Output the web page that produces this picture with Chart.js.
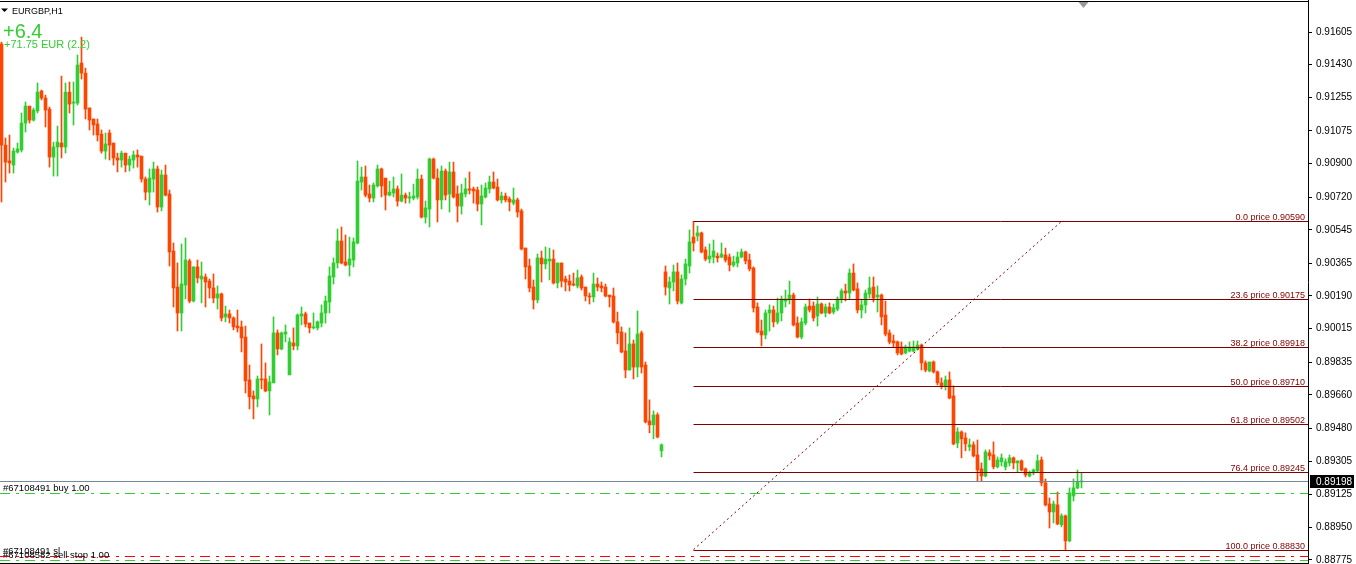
<!DOCTYPE html>
<html>
<head>
<meta charset="utf-8">
<title>EURGBP,H1</title>
<script src="https://cdn.jsdelivr.net/npm/chart.js@4.4.0/dist/chart.umd.min.js"></script>
<style>
  html, body { margin: 0; padding: 0; background: #fff; }
  #chart { display: block; }
</style>
</head>
<body>
<canvas id="chart" width="1356" height="564"></canvas>
<script>
'use strict';

// EURGBP H1 bars, oldest first
const opens = [
  0.91541,0.90999,0.90914,0.90892,0.90962,0.90973,0.91117,0.91208,0.91133,0.91182,
  0.91289,0.91251,0.91192,0.90935,0.90989,0.91010,0.90989,0.91283,0.91224,0.91224,
  0.91439,0.91385,0.91198,0.91139,0.91112,0.91058,0.90967,0.91064,0.91010,0.90930,
  0.90919,0.90956,0.90892,0.90919,0.90946,0.90940,0.90817,0.90747,0.90817,0.90871,
  0.90667,0.90839,0.90737,0.90431,0.90238,0.90099,0.90249,0.90378,0.90163,0.90346,
  0.90281,0.90292,0.90270,0.90233,0.90179,0.90201,0.90078,0.90094,0.90072,0.90029,
  0.90024,0.89970,0.89740,0.89654,0.89638,0.89745,0.89745,0.89681,0.89724,0.89992,
  0.89906,0.89986,0.89767,0.89938,0.89922,0.90083,0.90094,0.90045,0.90019,0.90019,
  0.90045,0.90099,0.90158,0.90292,0.90367,0.90485,0.90372,0.90356,0.90383,0.90474,
  0.90801,0.90828,0.90737,0.90715,0.90780,0.90871,0.90822,0.90731,0.90742,0.90764,
  0.90699,0.90731,0.90715,0.90715,0.90721,0.90817,0.90613,0.90656,0.90924,0.90822,
  0.90705,0.90860,0.90737,0.90855,0.90737,0.90672,0.90737,0.90764,0.90764,0.90758,
  0.90683,0.90721,0.90764,0.90801,0.90774,0.90705,0.90726,0.90710,0.90688,0.90705,
  0.90646,0.90447,0.90351,0.90238,0.90169,0.90394,0.90362,0.90378,0.90388,0.90260,
  0.90367,0.90281,0.90270,0.90254,0.90244,0.90292,0.90238,0.90190,0.90185,0.90254,
  0.90244,0.90238,0.90195,0.90190,0.90051,0.89997,0.89895,0.89793,0.89933,0.89809,
  0.89992,0.89820,0.89520,0.89499,0.89552,0.89360,0.90319,0.90233,0.90265,0.90319,
  0.90153,0.90281,0.90351,0.90506,0.90512,0.90528,0.90437,0.90388,0.90399,0.90404,
  0.90399,0.90410,0.90399,0.90356,0.90367,0.90399,0.90426,0.90383,0.90340,0.90131,
  0.90002,0.89981,0.90099,0.90115,0.90051,0.90099,0.90163,0.90174,0.90195,0.90045,
  0.89970,0.90045,0.90136,0.90136,0.90083,0.90147,0.90099,0.90131,0.90104,0.90120,
  0.90174,0.90217,0.90206,0.90313,0.90228,0.90115,0.90142,0.90201,0.90238,0.90185,
  0.90195,0.90088,0.89992,0.89949,0.89944,0.89917,0.89885,0.89895,0.89895,0.89906,
  0.89927,0.89831,0.89788,0.89836,0.89783,0.89724,0.89708,0.89740,0.89654,0.89402,
  0.89461,0.89429,0.89381,0.89392,0.89338,0.89263,0.89225,0.89349,0.89338,0.89274,
  0.89301,0.89274,0.89295,0.89322,0.89295,0.89306,0.89263,0.89225,0.89241,0.89252,
  0.89311,0.89188,0.89075,0.89032,0.89070,0.88963,0.89011,0.88877,0.89118,0.89161,
  0.89193
];
const highs = [
  0.91551,0.91037,0.91053,0.90983,0.91010,0.91171,0.91230,0.91208,0.91198,0.91332,
  0.91294,0.91267,0.91203,0.91015,0.91101,0.91369,0.91332,0.91337,0.91337,0.91482,
  0.91578,0.91412,0.91198,0.91139,0.91139,0.91080,0.91064,0.91080,0.91010,0.90956,
  0.90967,0.90956,0.90940,0.90967,0.90973,0.90940,0.90828,0.90871,0.90908,0.90887,
  0.90865,0.90892,0.90758,0.90474,0.90367,0.90469,0.90501,0.90388,0.90346,0.90383,
  0.90372,0.90308,0.90281,0.90308,0.90244,0.90206,0.90136,0.90115,0.90078,0.90115,
  0.90056,0.90029,0.89820,0.89681,0.89761,0.89933,0.89831,0.89761,0.90078,0.90008,
  0.89997,0.90035,0.89965,0.90019,0.90094,0.90131,0.90104,0.90045,0.90099,0.90056,
  0.90142,0.90190,0.90346,0.90394,0.90549,0.90560,0.90517,0.90506,0.90501,0.90914,
  0.90881,0.90887,0.90785,0.90796,0.90892,0.90876,0.90822,0.90806,0.90828,0.90780,
  0.90844,0.90742,0.90747,0.90790,0.90871,0.90839,0.90699,0.90930,0.90930,0.90871,
  0.90887,0.90871,0.90908,0.90908,0.90780,0.90790,0.90822,0.90855,0.90774,0.90774,
  0.90785,0.90796,0.90833,0.90855,0.90817,0.90747,0.90742,0.90721,0.90769,0.90715,
  0.90656,0.90447,0.90388,0.90276,0.90415,0.90431,0.90453,0.90447,0.90437,0.90367,
  0.90367,0.90297,0.90303,0.90313,0.90329,0.90303,0.90238,0.90206,0.90313,0.90287,
  0.90265,0.90254,0.90195,0.90233,0.90104,0.90024,0.89992,0.90019,0.89954,0.90110,
  0.90002,0.89836,0.89633,0.89574,0.89563,0.89397,0.90351,0.90292,0.90356,0.90367,
  0.90303,0.90388,0.90544,0.90590,0.90565,0.90533,0.90453,0.90469,0.90490,0.90421,
  0.90474,0.90447,0.90415,0.90404,0.90426,0.90442,0.90431,0.90415,0.90346,0.90153,
  0.90061,0.90115,0.90142,0.90136,0.90179,0.90190,0.90222,0.90270,0.90206,0.90078,
  0.90072,0.90147,0.90174,0.90158,0.90185,0.90153,0.90147,0.90153,0.90147,0.90185,
  0.90228,0.90254,0.90335,0.90362,0.90260,0.90174,0.90222,0.90292,0.90292,0.90244,
  0.90201,0.90163,0.90008,0.89981,0.89949,0.89944,0.89927,0.89944,0.89949,0.89949,
  0.89933,0.89842,0.89836,0.89842,0.89788,0.89751,0.89761,0.89783,0.89708,0.89483,
  0.89467,0.89456,0.89424,0.89408,0.89418,0.89295,0.89365,0.89365,0.89408,0.89327,
  0.89343,0.89317,0.89338,0.89327,0.89306,0.89311,0.89268,0.89252,0.89263,0.89338,
  0.89327,0.89209,0.89107,0.89091,0.89139,0.89022,0.89016,0.89161,0.89209,0.89257,
  0.89241
];
const lows = [
  0.90694,0.90801,0.90849,0.90849,0.90956,0.90962,0.91069,0.91117,0.91128,0.91171,
  0.91241,0.91096,0.90881,0.90833,0.90833,0.90930,0.90956,0.91171,0.91107,0.91214,
  0.91353,0.91139,0.91080,0.91053,0.91021,0.90956,0.90924,0.90919,0.90892,0.90855,
  0.90881,0.90855,0.90860,0.90876,0.90881,0.90801,0.90705,0.90678,0.90747,0.90640,
  0.90646,0.90726,0.90351,0.90131,0.90002,0.90002,0.90174,0.90153,0.90158,0.90260,
  0.90153,0.90131,0.90179,0.90153,0.90120,0.90056,0.90051,0.90045,0.90008,0.89997,
  0.89890,0.89670,0.89584,0.89531,0.89595,0.89692,0.89676,0.89552,0.89724,0.89874,
  0.89901,0.89944,0.89767,0.89901,0.89901,0.90035,0.90024,0.89992,0.90013,0.90008,
  0.90024,0.90045,0.90099,0.90254,0.90340,0.90362,0.90351,0.90297,0.90346,0.90469,
  0.90758,0.90721,0.90694,0.90694,0.90774,0.90721,0.90651,0.90726,0.90721,0.90672,
  0.90694,0.90688,0.90688,0.90705,0.90710,0.90608,0.90581,0.90560,0.90817,0.90587,
  0.90656,0.90705,0.90640,0.90715,0.90587,0.90629,0.90721,0.90737,0.90688,0.90646,
  0.90571,0.90715,0.90742,0.90764,0.90699,0.90688,0.90694,0.90646,0.90678,0.90613,
  0.90437,0.90281,0.90212,0.90120,0.90153,0.90265,0.90335,0.90276,0.90254,0.90233,
  0.90238,0.90217,0.90217,0.90244,0.90233,0.90222,0.90163,0.90147,0.90158,0.90217,
  0.90212,0.90185,0.90131,0.90045,0.89933,0.89885,0.89751,0.89793,0.89745,0.89756,
  0.89777,0.89509,0.89456,0.89424,0.89429,0.89327,0.90195,0.90147,0.90217,0.90147,
  0.90147,0.90249,0.90313,0.90431,0.90485,0.90421,0.90378,0.90367,0.90367,0.90372,
  0.90394,0.90372,0.90324,0.90346,0.90346,0.90394,0.90362,0.90324,0.90104,0.89992,
  0.89922,0.89960,0.90002,0.90024,0.90040,0.90056,0.90131,0.90147,0.90029,0.89965,
  0.89960,0.90035,0.90104,0.90056,0.90029,0.90094,0.90078,0.90094,0.90094,0.90110,
  0.90153,0.90163,0.90174,0.90217,0.90099,0.90072,0.90099,0.90179,0.90158,0.90104,
  0.90035,0.89976,0.89933,0.89917,0.89874,0.89874,0.89879,0.89890,0.89890,0.89901,
  0.89793,0.89783,0.89783,0.89777,0.89713,0.89692,0.89686,0.89638,0.89392,0.89376,
  0.89322,0.89360,0.89360,0.89327,0.89198,0.89198,0.89220,0.89311,0.89263,0.89268,
  0.89279,0.89257,0.89279,0.89263,0.89247,0.89252,0.89220,0.89220,0.89231,0.89247,
  0.89172,0.89064,0.88946,0.88973,0.88963,0.88952,0.88830,0.88872,0.89091,0.89156,
  0.89161
];
const closes = [
  0.90999,0.90908,0.90903,0.90967,0.90978,0.91117,0.91208,0.91133,0.91187,0.91283,
  0.91251,0.91187,0.90935,0.90989,0.91015,0.90989,0.91283,0.91219,0.91230,0.91428,
  0.91385,0.91192,0.91133,0.91107,0.91053,0.90967,0.91005,0.90999,0.90930,0.90919,
  0.90956,0.90892,0.90924,0.90946,0.90935,0.90817,0.90747,0.90822,0.90871,0.90667,
  0.90839,0.90731,0.90426,0.90233,0.90099,0.90254,0.90383,0.90163,0.90346,0.90287,
  0.90297,0.90265,0.90233,0.90179,0.90201,0.90072,0.90094,0.90072,0.90024,0.90019,
  0.89965,0.89735,0.89649,0.89638,0.89745,0.89740,0.89681,0.89729,0.89992,0.89906,
  0.89992,0.89997,0.89944,0.89922,0.90088,0.90094,0.90040,0.90019,0.90024,0.90051,
  0.90099,0.90163,0.90297,0.90367,0.90485,0.90367,0.90356,0.90388,0.90480,0.90806,
  0.90828,0.90731,0.90715,0.90785,0.90871,0.90780,0.90731,0.90747,0.90764,0.90699,
  0.90731,0.90715,0.90721,0.90726,0.90817,0.90613,0.90662,0.90924,0.90822,0.90705,
  0.90860,0.90731,0.90855,0.90721,0.90672,0.90742,0.90764,0.90758,0.90753,0.90683,
  0.90726,0.90769,0.90801,0.90769,0.90705,0.90726,0.90705,0.90694,0.90705,0.90640,
  0.90442,0.90346,0.90233,0.90169,0.90394,0.90362,0.90388,0.90388,0.90260,0.90367,
  0.90270,0.90265,0.90249,0.90249,0.90287,0.90233,0.90190,0.90185,0.90254,0.90238,
  0.90233,0.90190,0.90185,0.90051,0.89992,0.89890,0.89793,0.89933,0.89809,0.89986,
  0.89809,0.89515,0.89499,0.89552,0.89434,0.89392,0.90238,0.90265,0.90319,0.90163,
  0.90281,0.90362,0.90480,0.90474,0.90528,0.90426,0.90388,0.90404,0.90431,0.90394,
  0.90415,0.90383,0.90356,0.90372,0.90399,0.90426,0.90378,0.90335,0.90126,0.89997,
  0.89981,0.90099,0.90115,0.90051,0.90099,0.90174,0.90174,0.90195,0.90035,0.89970,
  0.90051,0.90131,0.90115,0.90072,0.90147,0.90099,0.90131,0.90099,0.90126,0.90174,
  0.90217,0.90206,0.90313,0.90222,0.90115,0.90142,0.90206,0.90233,0.90179,0.90195,
  0.90078,0.89986,0.89944,0.89938,0.89885,0.89879,0.89917,0.89917,0.89917,0.89927,
  0.89831,0.89793,0.89836,0.89783,0.89724,0.89708,0.89740,0.89643,0.89397,0.89461,
  0.89424,0.89397,0.89392,0.89333,0.89257,0.89225,0.89354,0.89333,0.89274,0.89311,
  0.89322,0.89301,0.89322,0.89295,0.89306,0.89257,0.89231,0.89241,0.89257,0.89306,
  0.89188,0.89070,0.89032,0.89075,0.88968,0.89011,0.88877,0.89134,0.89161,0.89193,
  0.89198
];

// price scale labels as printed by the terminal
const priceTicks = [0.91605,0.91430,0.91255,0.91075,0.90900,0.90720,0.90545,0.90365,0.90190,
  0.90015,0.89835,0.89660,0.89480,0.89305,0.89125,0.88950,0.88775];

// fibo retracement
const fibLevels = [0.0, 23.6, 38.2, 50.0, 61.8, 76.4, 100.0];
const fibHighPrice = 0.90590;
const fibLowPrice = 0.88830;
const fibStartBar = 173;
const fibEndBar = 265;

const bidPrice = 0.89198;
const orderLabels = ['#67108491 buy 1.00', '#67108491 sl', '#67108582 sell stop 1.00'];
const orderPrices = [0.89134, 0.88796, 0.88775];
const orderColors = ['#32cd32', '#ff0000', '#32cd32'];

const symbolText = 'EURGBP,H1';
const pipsText = '+6.4';
const profitText = '+71.75 EUR (2.2)';

const BULL = '#32cd32';
const BEAR = '#ff4500';
const FIB = '#800000';
const FONT = '"Liberation Sans", Arial, sans-serif';

const barIdx = opens.map((o, i) => i);
const candleColors = barIdx.map(i => closes[i] >= opens[i] ? BULL : BEAR);

const crisp = v => Math.round(v) + 0.5;

const overlay = {
  id: 'overlay',
  afterDatasetsDraw(chart) {
    const {ctx, chartArea: area, scales: {x, y}} = chart;
    ctx.save();

    // fibo levels
    const fx = x.getPixelForValue(fibStartBar);
    ctx.lineWidth = 1;
    ctx.strokeStyle = FIB;
    ctx.fillStyle = FIB;
    ctx.font = '9px ' + FONT;
    ctx.textAlign = 'right';
    ctx.textBaseline = 'alphabetic';
    fibLevels.forEach(lv => {
      const price = fibHighPrice - (fibHighPrice - fibLowPrice) * lv / 100;
      const py = crisp(y.getPixelForValue(price));
      ctx.beginPath();
      ctx.moveTo(fx, py);
      ctx.lineTo(area.right, py);
      ctx.stroke();
      ctx.fillText(lv.toFixed(1) + ' price ' + price.toFixed(5), area.right - 3, py - 2);
    });

    // fibo trend line
    ctx.setLineDash([2, 3]);
    ctx.beginPath();
    ctx.moveTo(fx, y.getPixelForValue(fibLowPrice));
    ctx.lineTo(x.getPixelForValue(fibEndBar), y.getPixelForValue(fibHighPrice));
    ctx.stroke();
    ctx.setLineDash([]);

    // bid line
    const by = crisp(y.getPixelForValue(bidPrice));
    ctx.strokeStyle = '#778899';
    ctx.beginPath();
    ctx.moveTo(area.left, by);
    ctx.lineTo(area.right, by);
    ctx.stroke();

    // order lines
    ctx.textAlign = 'left';
    ctx.font = '9.5px ' + FONT;
    orderPrices.forEach((p, i) => {
      const oy = crisp(y.getPixelForValue(p));
      ctx.strokeStyle = orderColors[i];
      ctx.setLineDash([10, 6, 3, 6]);
      ctx.beginPath();
      ctx.moveTo(area.left, oy);
      ctx.lineTo(area.right, oy);
      ctx.stroke();
      ctx.setLineDash([]);
      ctx.fillStyle = '#000';
      ctx.fillText(orderLabels[i], area.left + 3, oy - 3);
    });
    ctx.restore();
  },
  afterDraw(chart) {
    const {ctx, chartArea: area, scales: {x, y}} = chart;
    ctx.save();

    // frame
    ctx.strokeStyle = '#000';
    ctx.lineWidth = 1;
    ctx.beginPath();
    ctx.moveTo(area.left, 1.5);
    ctx.lineTo(area.right, 1.5);
    ctx.moveTo(area.left, area.bottom - 0.5);
    ctx.lineTo(area.right, area.bottom - 0.5);
    ctx.stroke();

    // bid price tag
    const by = Math.round(y.getPixelForValue(bidPrice));
    ctx.fillStyle = '#000';
    ctx.fillRect(area.right + 2, by - 6, 44, 13);
    ctx.fillStyle = '#fff';
    ctx.font = '10px ' + FONT;
    ctx.textBaseline = 'middle';
    ctx.fillText(bidPrice.toFixed(5), area.right + 8, by + 1);

    // chart shift marker
    const sx = x.getPixelForValue(opens.length - 0.5);
    ctx.fillStyle = '#999';
    ctx.beginPath();
    ctx.moveTo(sx - 5, 2);
    ctx.lineTo(sx + 5, 2);
    ctx.lineTo(sx, 8);
    ctx.closePath();
    ctx.fill();

    // header
    ctx.fillStyle = '#000';
    ctx.beginPath();
    ctx.moveTo(area.left + 1, 8.5);
    ctx.lineTo(area.left + 8, 8.5);
    ctx.lineTo(area.left + 4.5, 12);
    ctx.closePath();
    ctx.fill();
    ctx.textBaseline = 'alphabetic';
    ctx.font = '9px ' + FONT;
    ctx.fillText(symbolText, area.left + 12, 14);
    ctx.fillStyle = BULL;
    ctx.font = '20px ' + FONT;
    ctx.fillText(pipsText, area.left + 3, 38);
    ctx.font = '11px ' + FONT;
    ctx.fillText(profitText, area.left + 4, 48);
    ctx.restore();
  }
};

new Chart(document.getElementById('chart'), {
  type: 'bar',
  data: {
    datasets: [
      {
        label: 'wick',
        data: barIdx.map(i => ({x: i, y: [lows[i], highs[i]]})),
        backgroundColor: candleColors,
        barThickness: 1,
        grouped: false,
        borderWidth: 0,
        order: 2
      },
      {
        label: 'body',
        data: barIdx.map(i => ({x: i, y: [opens[i], closes[i]]})),
        backgroundColor: candleColors,
        barThickness: 3,
        minBarLength: 1,
        grouped: false,
        borderWidth: 0,
        order: 1
      }
    ]
  },
  options: {
    responsive: false,
    devicePixelRatio: 1,
    animation: false,
    events: [],
    layout: {padding: 0},
    plugins: {legend: {display: false}, tooltip: {enabled: false}},
    scales: {
      x: {type: 'linear', min: -0.375, max: 326.625, offset: false, display: false},
      y: {
        position: 'right',
        min: 0.88753,
        max: 0.91777,
        afterBuildTicks: axis => { axis.ticks = priceTicks.map(v => ({value: v})); },
        afterFit: axis => { axis.width = 48; axis.paddingTop = 0; axis.paddingBottom = 0; },
        ticks: {
          autoSkip: false,
          maxRotation: 0,
          padding: 4,
          color: '#000',
          font: {family: '"Liberation Sans", Arial, sans-serif', size: 10},
          callback: v => Number(v).toFixed(5)
        },
        grid: {drawOnChartArea: false, drawTicks: true, tickLength: 4, color: '#000'},
        border: {display: true, color: '#000'}
      }
    }
  },
  plugins: [overlay]
});
</script>
</body>
</html>
